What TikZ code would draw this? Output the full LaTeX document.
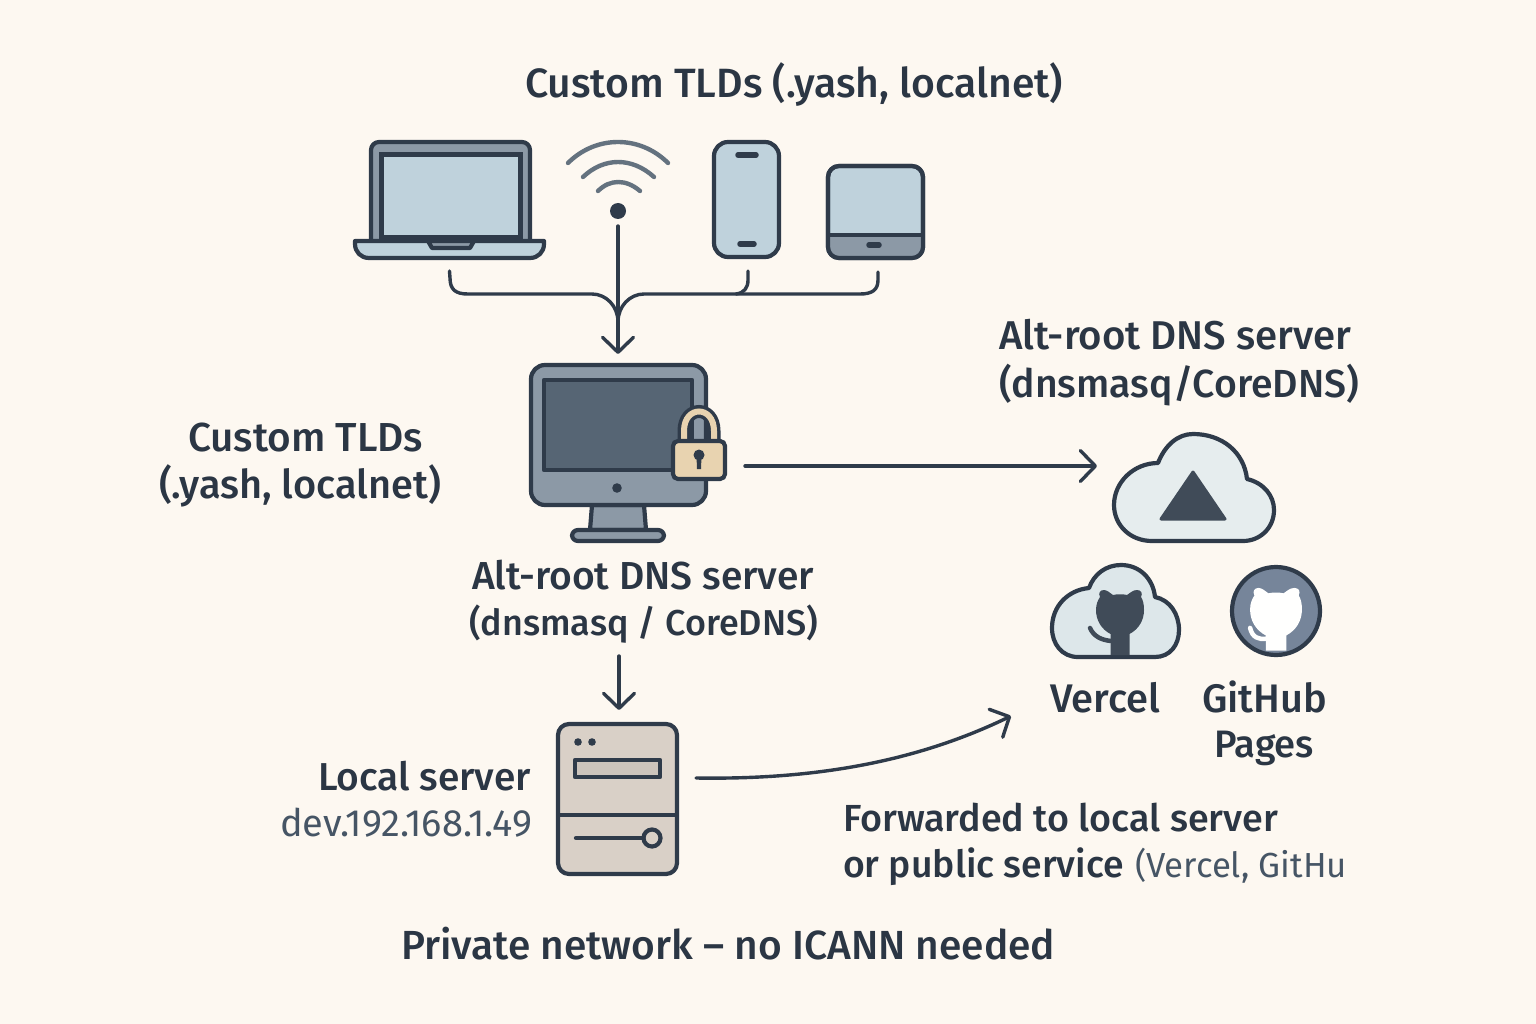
\documentclass[tikz,border=0pt]{standalone}
\usepackage{fontspec}
\usepackage{graphicx}
\setmainfont{Fira Sans}[UprightFont=* Medium]
\newfontfamily\regfont{Fira Sans}
\usetikzlibrary{arrows.meta}
\definecolor{bgc}{HTML}{FDF8F1}
\definecolor{ink}{HTML}{2F3B4A}
\definecolor{txt}{HTML}{2B3644}
\definecolor{txtl}{HTML}{465565}
\definecolor{scr}{HTML}{BFD2DC}
\definecolor{gry}{HTML}{8C99A6}
\definecolor{dscr}{HTML}{566574}
\definecolor{wifi}{HTML}{64727F}
\definecolor{lockc}{HTML}{E8D3B0}
\definecolor{srv}{HTML}{D9D0C7}
\definecolor{cloudc}{HTML}{E6EDEE}
\definecolor{cloudd}{HTML}{DDE7EA}
\definecolor{ghc}{HTML}{76859A}
\tikzset{
  ol/.style={draw=ink,line width=4.2pt,line join=round,line cap=round},
  conn/.style={draw=ink,line width=3.4pt,line cap=round,line join=round},
  arr/.style={conn,-{Straight Barb[length=15pt,width=31pt,line cap=round,line join=round]}},
  lbl/.style={anchor=base west,inner sep=0pt,outer sep=0pt,text=txt},
  lbll/.style={lbl,text=txtl,font=\regfont},
  anchorbox/.style={inner sep=0pt,outer sep=0pt,rectangle,minimum width=#1}
}
\newcommand\lab[5][lbl]{\node[#1] (#2) at (#3) {\resizebox{#4pt}{!}{#5}};}
\newcommand\catshape[1]{%
  (-9.5,#1) -- (-9.5,43) .. controls (-19,38) and (-24,29) .. (-24,19)
  .. controls (-24,13) and (-22,9) .. (-20,6) .. controls (-22,2) and (-20,-1) .. (-16,-1)
  .. controls (-13,-1) and (-10,2) .. (-7,4) .. controls (-3,3) and (3,3) .. (7,4)
  .. controls (10,2) and (13,-1) .. (17,-1) .. controls (21,-1) and (23,2) .. (21,6)
  .. controls (23,9) and (24,13) .. (24,19) .. controls (24,29) and (19,38) .. (9.5,43)
  -- (9.5,#1) -- cycle}
\begin{document}
\begin{tikzpicture}[x=1pt,y=-1pt]
\useasboundingbox[fill=bgc] (0,0) rectangle (1536,1024);

% laptop
\draw[ol,fill=gry,rounded corners=8pt] (371,243) -- (371,142) -- (530,142) -- (530,243);
\draw[ink,line width=5pt,fill=scr] (381,155) rectangle (520,238);
\draw[ol,fill=scr] (355,241) -- (544,241) -- (544,244) .. controls (544,252) and (538,258) .. (530,258) -- (369,258) .. controls (361,258) and (355,252) .. (355,244) -- cycle;
\draw[ol,fill=gry] (428,241) -- (474,241) -- (470,248) -- (432,248) -- cycle;
\node[anchorbox=189pt,minimum height=129pt] (laptop) at (449.5,206.5) {};

% wifi
\draw[wifi,line width=4.4pt,line cap=round] (568,163) .. controls (596,135) and (640,135) .. (668,163);
\draw[wifi,line width=4.4pt,line cap=round] (583,177) .. controls (604,157) and (632,157) .. (654,177);
\draw[wifi,line width=4.4pt,line cap=round] (598,191) .. controls (610,179) and (626,179) .. (640,191);
\fill[ink] (618,211) circle (8pt);
\node[anchorbox=100pt,minimum height=85pt] (wifi) at (618,183.5) {};

% phone
\draw[ol,fill=scr,rounded corners=14pt] (714,142) rectangle (779,257);
\draw[ink,line width=5.5pt,line cap=round] (738,155) -- (756,155);
\draw[ink,line width=5.5pt,line cap=round] (740,244) -- (754,244);
\node[anchorbox=65pt,minimum height=129pt] (phone) at (746.5,206.5) {};

% tablet
\draw[ol,fill=scr,rounded corners=11pt] (828,166) rectangle (923,258);
\begin{scope}
\clip[rounded corners=11pt] (828,166) rectangle (923,258);
\fill[gry] (828,235) rectangle (923,258);
\draw[ink,line width=4.2pt] (828,235) -- (923,235);
\end{scope}
\draw[ol,rounded corners=11pt] (828,166) rectangle (923,258);
\draw[ink,line width=5.5pt,line cap=round] (869,245) -- (879,245);
\node[anchorbox=96pt,minimum height=106pt] (tablet) at (875,219) {};

% monitor
\draw[ol,fill=gry] (592,505) -- (590,530) -- (646,530) -- (644,505) -- cycle;
\draw[ol,fill=gry,rounded corners=6pt] (572,530) rectangle (664,541);
\draw[ol,fill=gry,rounded corners=14pt] (531,365) rectangle (706,505);
\draw[ol,fill=dscr] (544,380) rectangle (692,470);
\fill[ink] (617,488) circle (4.8pt);
\node[anchorbox=176pt,minimum height=187pt] (monitor) at (618,447.5) {};

% lock
\draw[ink,line width=13pt] (684,443) -- (684,431) .. controls (684,405) and (714,405) .. (714,431) -- (714,443);
\draw[lockc,line width=6pt] (684,443) -- (684,431) .. controls (684,405) and (714,405) .. (714,431) -- (714,443);
\draw[ol,fill=lockc,rounded corners=5pt] (673,441) rectangle (725,479);
\fill[ink] (699,455) circle (5.5pt);
\fill[ink] (696.5,456) -- (701.5,456) -- (701,469) -- (697,469) -- cycle;
\node[anchorbox=54pt,minimum height=70pt] (lock) at (699,444.5) {};

% alt-root cloud
\draw[ol,fill=cloudc] (1152,541) .. controls (1130,541) and (1114,525) .. (1114,505) .. controls (1114,482) and (1134,463) .. (1158,463) .. controls (1165,445) and (1178,434) .. (1193,434) .. controls (1222,434) and (1244,452) .. (1247,479) .. controls (1264,483) and (1274,496) .. (1274,510) .. controls (1274,528) and (1260,541) .. (1243,541) -- cycle;
\fill[ink!92!white,draw=ink!92!white,line width=3pt,line join=round] (1193,472) -- (1161,519) -- (1225,519) -- cycle;
\node[anchorbox=162pt,minimum height=109pt] (altcloud) at (1194,487.5) {};

% vercel cloud
\draw[ol,fill=cloudd] (1078,657) .. controls (1062,657) and (1052,644) .. (1052,628) .. controls (1052,606) and (1068,590) .. (1089,588) .. controls (1094,574) and (1106,565) .. (1121,565) .. controls (1139,565) and (1153,578) .. (1155,597) .. controls (1170,600) and (1179,614) .. (1179,630) .. controls (1179,645) and (1170,657) .. (1155,657) -- cycle;
\begin{scope}[shift={(1120,591)}]
\fill[ink!92!white] \catshape{64};
\draw[ink!92!white,line width=4.5pt,line cap=round] (-30,37) .. controls (-26,46) and (-18,49) .. (-9,50);
\end{scope}
\node[anchorbox=128pt,minimum height=94pt] (vercel) at (1116,611) {};

% github circle
\draw[draw=ink,line width=4.2pt,fill=ghc] (1276,611) circle (44pt);
\begin{scope}[shift={(1276,589)},scale=1.08]
\fill[white!96!bgc] \catshape{57};
\draw[white!96!bgc,line width=4.5pt,line cap=round] (-24,36) .. controls (-22,45) and (-16,47) .. (-9,46);
\end{scope}
\node[anchorbox=88pt,minimum height=88pt] (github) at (1276,611) {};

% server
\draw[ol,fill=srv,rounded corners=11pt] (558,724) rectangle (677,874);
\draw[ink,line width=4.2pt] (558,815) -- (677,815);
\fill[ink] (578,742) circle (3.8pt) (592,742) circle (3.8pt);
\draw[ol,fill=srv!85!gray] (575,760) rectangle (660,777);
\draw[ink,line width=4.4pt,line cap=round] (576,838) -- (642,838);
\draw[ol,fill=srv] (652,838) circle (8.5pt);
\node[anchorbox=121pt,minimum height=152pt] (server) at (617.5,799) {};

% connector ends
\coordinate (laptopOut) at (laptop.south);
\coordinate (wifiOut) at (wifi.south);
\coordinate (phoneOut) at (748,271);
\coordinate (tabletOut) at (878,272);
\coordinate (merge) at (618,322);
\coordinate (monTop) at (618,354);
\coordinate (monRight) at (745,466);
\coordinate (cloudLeft) at (1097,466);
\coordinate (labelBottom) at (619,656);
\coordinate (srvTop) at (619,710);
\coordinate (srvRight) at (696,778);
\coordinate (svcIn) at (1011,716);

% connectors
\draw[conn] (laptopOut) -- (450,278) .. controls (450,290) and (456,294) .. (468,294) -- (592,294) .. controls (606,294) and (618,306) .. (merge);
\draw[conn] (tabletOut) -- (878,280) .. controls (878,290) and (872,294) .. (860,294) -- (644,294) .. controls (630,294) and (618,306) .. (merge);
\draw[conn] (phoneOut) -- (748,280) .. controls (748,288) and (744,293) .. (736,294);
\draw[arr] (wifiOut) -- (monTop);
\draw[arr] (monRight) -- (cloudLeft);
\draw[arr] (labelBottom) -- (srvTop);
\draw[arr] (srvRight) .. controls (820,780) and (920,760) .. (svcIn);

% text
\lab{t1}{525,98}{538}{Custom TLDs (.yash, localnet)}
\lab{t2}{999,349}{352}{Alt-root DNS server}
\lab{t3}{999,397}{360}{(dnsmasq/CoreDNS)}
\lab{t4}{188,451}{235}{Custom TLDs}
\lab{t5}{159,498}{282}{(.yash, localnet)}
\lab{t6}{472,589}{342}{Alt-root DNS server}
\lab{t7}{469,635}{349}{(dnsmasq / CoreDNS)}
\lab{t8}{1050,712}{110}{Vercel}
\lab{t9}{1202,712}{125}{GitHub}
\lab{t10}{1214,757}{100}{Pages}
\lab{t11}{318,790}{213}{Local server}
\lab[lbll]{t12}{280,836}{252}{dev.192.168.1.49}
\lab{t13}{843,831}{435}{Forwarded to local server}
\lab{t14}{843,877}{281}{or public service}
\lab[lbll]{t15}{1135,877}{212}{(Vercel, GitHu}
\lab{t16}{401,959}{654}{Private network – no ICANN needed}
\end{tikzpicture}
\end{document}
